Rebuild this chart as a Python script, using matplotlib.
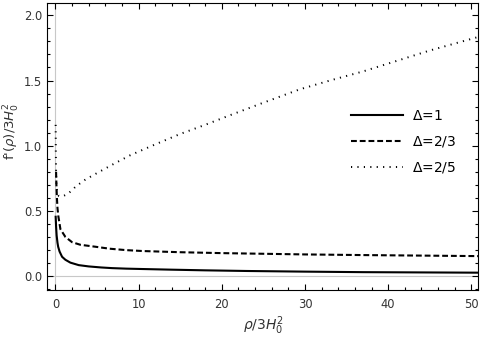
import numpy as np
import matplotlib
matplotlib.use('Agg')
import matplotlib.pyplot as plt
from matplotlib.ticker import MultipleLocator

# Values
rho_d1 = [0.03, 0.08, 0.15, 0.25, 0.33, 0.5, 0.8, 1.2, 1.8, 2.8, 4, 5.5, 6.8,
          8.5, 10.5, 14, 18, 23, 30, 37, 44, 51]
f_d1 = [0.455, 0.38, 0.31, 0.255, 0.225, 0.188, 0.148, 0.125, 0.103, 0.084,
        0.074, 0.066, 0.061, 0.057, 0.054, 0.049, 0.044, 0.039, 0.034, 0.030,
        0.028, 0.026]

rho_d23 = [0.08, 0.12, 0.18, 0.25, 0.35, 0.6, 1.2, 2.0, 3.0, 4.8, 6.5, 8.5,
           10.5, 15, 20, 25, 30, 37, 44, 51]
f_d23 = [0.80, 0.70, 0.60, 0.52, 0.46, 0.36, 0.30, 0.26, 0.24, 0.225, 0.21,
         0.199, 0.192, 0.183, 0.176, 0.171, 0.166, 0.161, 0.157, 0.153]

rho_d25 = [0.03, 0.05, 0.08, 0.12, 0.2, 0.4, 0.8, 1.5, 2.5, 3.6, 5, 7, 9, 12,
           15, 18, 21, 25, 29.4, 33, 37, 41, 45, 50.6, 51]
f_d25 = [1.16, 0.95, 0.80, 0.70, 0.645, 0.615, 0.61, 0.63, 0.69, 0.74, 0.79,
         0.86, 0.927, 1.01, 1.09, 1.16, 1.234, 1.33, 1.433, 1.50, 1.57, 1.65,
         1.73, 1.83, 1.835]

labels = [r'$\Delta$=1', r'$\Delta$=2/3', r'$\Delta$=2/5']

plt.rcParams['font.family'] = 'DejaVu Sans'
plt.rcParams['mathtext.fontset'] = 'dejavusans'
txtcol = '#333333'

fig = plt.figure(figsize=(4.81, 3.40), dpi=100)
ax = fig.add_axes([0.0967, 0.147, 0.898, 0.844])

# Mathematica-like axes through origin
ax.axhline(0, color='#c8c8c8', lw=0.8, zorder=1)
ax.axvline(0, color='#c8c8c8', lw=0.8, zorder=1)

ax.plot(rho_d1, f_d1, '-', color='k', lw=1.5, label=labels[0], zorder=3)
ax.plot(rho_d23, f_d23, color='k', lw=1.5, ls=(0, (2.8, 1.4)),
        label=labels[1], zorder=3)
ax.plot(rho_d25, f_d25, color='k', lw=1.4, ls=(0, (0.6, 2.7)),
        label=labels[2], zorder=3)

ax.set_xlim(-1.07, 50.85)
ax.set_ylim(-0.107, 2.094)

ax.xaxis.set_major_locator(MultipleLocator(10))
ax.xaxis.set_minor_locator(MultipleLocator(2))
ax.yaxis.set_major_locator(MultipleLocator(0.5))
ax.yaxis.set_minor_locator(MultipleLocator(0.1))
ax.yaxis.set_major_formatter(plt.FormatStrFormatter('%.1f'))

ax.tick_params(which='both', direction='in', top=True, right=True,
               labelsize=8.3, labelcolor=txtcol, width=0.8)
ax.tick_params(which='major', length=4)
ax.tick_params(which='minor', length=2.3)
ax.tick_params(axis='x', pad=6)
ax.tick_params(axis='y', pad=3)
for s in ax.spines.values():
    s.set_linewidth(0.8)

ax.set_xlabel(r'$\rho$/3$H_0^2$', fontsize=10, color=txtcol)
ax.set_ylabel(r"f'($\rho$)/3$H_0^2$", fontsize=9.5, color=txtcol)
ax.xaxis.set_label_coords(0.503, -0.085)
ax.yaxis.set_label_coords(-0.057, 0.554)

ax.legend(loc='center left', bbox_to_anchor=(0.706, 0.516), frameon=False,
          fontsize=10, handlelength=3.74, handletextpad=0.6,
          labelspacing=0.82, borderpad=0, borderaxespad=0)

fig.savefig('out.png', dpi=100)
